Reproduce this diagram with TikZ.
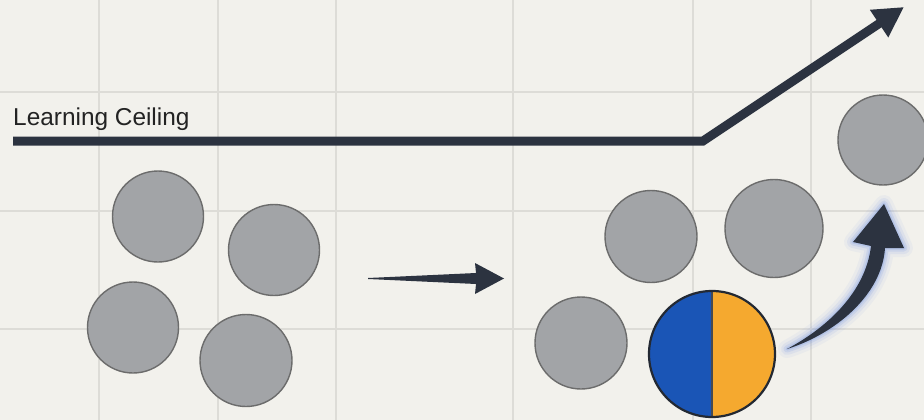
\documentclass[tikz,border=0pt]{standalone}
\usepackage{fontspec}
\setmainfont{Liberation Sans}
\usetikzlibrary{arrows.meta}
\definecolor{bg}{HTML}{F2F1EC}
\definecolor{gridc}{HTML}{DDDCD7}
\definecolor{dot}{HTML}{A2A4A7}
\definecolor{dotb}{HTML}{6C6C6C}
\definecolor{ink}{HTML}{2C3340}
\definecolor{hblue}{HTML}{1A55B6}
\definecolor{horange}{HTML}{F5A92F}
\definecolor{glowc}{HTML}{5F86E0}
\definecolor{txt}{HTML}{232323}
\tikzset{
  gridline/.style={gridc, line width=1.2pt},
  dotnode/.style={circle, fill=dot, draw=dotb, line width=1.4pt, inner sep=0pt, minimum size=#1},
  inkfill/.style={fill=ink},
}
\begin{document}
\begin{tikzpicture}[x=1pt,y=-1pt]
\useasboundingbox[fill=bg] (0,0) rectangle (924,420);
% grid
\foreach \gx in {99,218,336,513,693,811} \draw[gridline] (\gx,0) -- (\gx,420);
\foreach \gy in {92,211,329} \draw[gridline] (0,\gy) -- (924,\gy);
% title
\node[anchor=base west, inner sep=0pt, font=\fontsize{24.4}{29}\selectfont, text=txt] (title) at (13,125) {Learning Ceiling};
% ceiling line
\coordinate (cs) at (13,141);
\coordinate (knee) at (703,141);
\coordinate (ce) at (904,7);
\draw[ink, line width=9pt, line join=miter, -{Triangle[length=30pt,width=31pt]}] (cs) -- (knee) -- (ce);
% left group
\node[dotnode=91pt] (c1) at (158,216.5) {};
\node[dotnode=91pt] (c2) at (274,250) {};
\node[dotnode=91pt] (c3) at (133,327.5) {};
\node[dotnode=92pt] (c4) at (246,360.5) {};
% right group
\node[dotnode=92pt] (c5) at (651,236.5) {};
\node[dotnode=98pt] (c6) at (774,228.5) {};
\node[dotnode=92pt] (c7) at (581,343) {};
\node[dotnode=90pt] (c9) at (883,140) {};
\node[circle, inner sep=0pt, minimum size=126pt, draw=ink!80!black, line width=2.2pt,
  path picture={
    \fill[hblue] (path picture bounding box.north west) rectangle (path picture bounding box.south);
    \fill[horange] (path picture bounding box.north) rectangle (path picture bounding box.south east);
    \draw[ink!70!gray, line width=2.2pt] (path picture bounding box.north) -- (path picture bounding box.south);
  }] (split) at (712,354) {};
% middle arrow
\coordinate (ma) at (368,278);
\coordinate (mb) at (504,278.5);
\fill[inkfill] (ma) -- (476,273) -- (475,263) -- (mb) -- (475,294) -- (476,284) -- (368,279) -- cycle;
% curved arrow with glow
\coordinate (ka) at (787,349);
\coordinate (kb) at (884,204);
\def\curvedarrowpath{(ka) .. controls (835,334) and (882,295) .. (885,248) -- (904,248) -- (kb) -- (853,242) -- (871,246) .. controls (866,290) and (830,326) .. (ka) -- cycle}
\draw[glowc, opacity=0.06, line width=18pt, line join=round] \curvedarrowpath;
\draw[glowc, opacity=0.09, line width=12pt, line join=round] \curvedarrowpath;
\draw[glowc, opacity=0.14, line width=7pt, line join=round] \curvedarrowpath;
\draw[glowc, opacity=0.2, line width=3pt, line join=round] \curvedarrowpath;
\fill[inkfill] \curvedarrowpath;
\end{tikzpicture}
\end{document}
